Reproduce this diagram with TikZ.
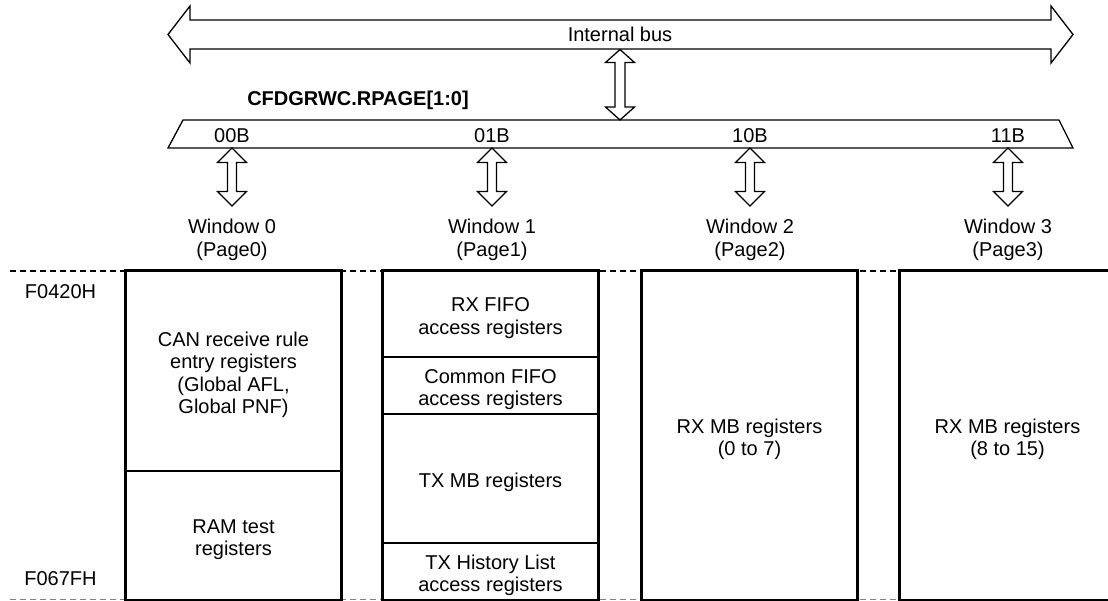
\documentclass[tikz,border=0pt]{standalone}
\usepackage{fontspec}
\setmainfont{Liberation Sans}
\usetikzlibrary{calc}
\newcommand{\vdblarrow}[4]{% #1 top coord, #2 bottom coord, #3 head length, #4 half shaft width
  \draw[blockarrow] let \p1=(#1), \p2=(#2) in
    (\p1) -- (\x1+14.5pt,\y1-#3) -- (\x1+#4,\y1-#3) -- (\x1+#4,\y2+#3) -- (\x1+14.5pt,\y2+#3)
    -- (\x1,\y2) -- (\x1-14.5pt,\y2+#3) -- (\x1-#4,\y2+#3) -- (\x1-#4,\y1-#3) -- (\x1-14.5pt,\y1-#3) -- cycle;}
\begin{document}
\begin{tikzpicture}[x=1pt,y=-1pt,
  lbl/.style={font=\fontsize{20}{22.5}\selectfont, align=center, inner sep=0pt},
  blockarrow/.style={draw=black, line width=1.3pt, fill=white, line join=miter},
  cell/.style={draw=black, fill=white, line width=1.3pt, minimum width=215pt, inner sep=0pt},
  celltext/.style={lbl, yshift=-4pt},
  outerbox/.style={draw=black, line width=2.2pt},
  guide/.style={line width=1.3pt, dash pattern=on 6pt off 4pt}]
\useasboundingbox (0,0) rectangle (1108,600);
\clip (0,0) rectangle (1108,600);

% internal bus
\draw[blockarrow] (168,34.5) -- (190,6) -- (190,20) -- (1051,20) -- (1051,6) -- (1073,34.5)
  -- (1051,63) -- (1051,49) -- (190,49) -- (190,63) -- cycle;
\node[lbl] (bus) at (620,34) {Internal bus};
\coordinate (busb) at (620,49.5);

% selector
\node[lbl, font=\fontsize{20}{22.5}\selectfont\bfseries] (rpage) at (358,100) {CFDGRWC.RPAGE[1:0]};
\draw[line width=1.3pt] (183,120) -- (1059,120) -- (1073,148) -- (168,148) -- cycle;
\coordinate (selt) at (620,120);
\vdblarrow{busb}{selt}{13pt}{5pt}

\node[lbl] (b0) at (232,136) {00B};
\node[lbl] (b1) at (492,136) {01B};
\node[lbl] (b2) at (750,136) {10B};
\node[lbl] (b3) at (1008,136) {11B};

\foreach \i/\x in {0/232,1/492,2/750,3/1008}{
  \coordinate (s\i) at (\x,148);
  \coordinate (w\i) at (\x,206);
}
\vdblarrow{s0}{w0}{14.5pt}{4.5pt}
\vdblarrow{s1}{w1}{14.5pt}{4.5pt}
\vdblarrow{s2}{w2}{14.5pt}{4.5pt}
\vdblarrow{s3}{w3}{14.5pt}{4.5pt}

\node[lbl] (win0) at (232,240) {Window 0\\(Page0)};
\node[lbl] (win1) at (492,240) {Window 1\\(Page1)};
\node[lbl] (win2) at (750,240) {Window 2\\(Page2)};
\node[lbl] (win3) at (1008,240) {Window 3\\(Page3)};

% guide lines
\draw[guide] (10,271) -- (1108,271);
\draw[guide, gray] (10,599.5) -- (1108,599.5);

\node[lbl] (addr1) at (60.5,292) {F0420H};
\node[lbl] (addr2) at (60.5,579) {F067FH};

% window 0
\node[cell, minimum height=200pt] (c0a) at (233.5,371) {};
\node[cell, minimum height=129pt] (c0b) at (233.5,535.5) {};
\draw[outerbox] (c0a.north west) rectangle (c0b.south east);
\node[celltext] (t0a) at (c0a) {CAN receive rule\\entry registers\\(Global AFL,\\Global PNF)};
\node[celltext] (t0b) at (c0b) {RAM test\\registers};

% window 1
\node[cell, minimum height=86pt] (c1a) at (490.5,314) {};
\node[cell, minimum height=57pt] (c1b) at (490.5,385.5) {};
\node[cell, minimum height=129pt] (c1c) at (490.5,478.5) {};
\node[cell, minimum height=57pt] (c1d) at (490.5,571.5) {};
\draw[outerbox] (c1a.north west) rectangle (c1d.south east);
\node[celltext] (t1a) at (c1a) {RX FIFO\\access registers};
\node[celltext] (t1b) at (c1b) {Common FIFO\\access registers};
\node[celltext] (t1c) at (c1c) {TX MB registers};
\node[celltext] (t1d) at (c1d) {TX History List\\access registers};

% window 2
\node[cell, minimum height=329pt] (c2a) at (749.5,435.5) {};
\draw[outerbox] (c2a.north west) rectangle (c2a.south east);
\node[celltext] (t2a) at (c2a) {RX MB registers\\(0 to 7)};

% window 3
\node[cell, minimum height=329pt] (c3a) at (1007.5,435.5) {};
\draw[outerbox] (c3a.north west) rectangle (c3a.south east);
\node[celltext] (t3a) at (c3a) {RX MB registers\\(8 to 15)};
\end{tikzpicture}
\end{document}
